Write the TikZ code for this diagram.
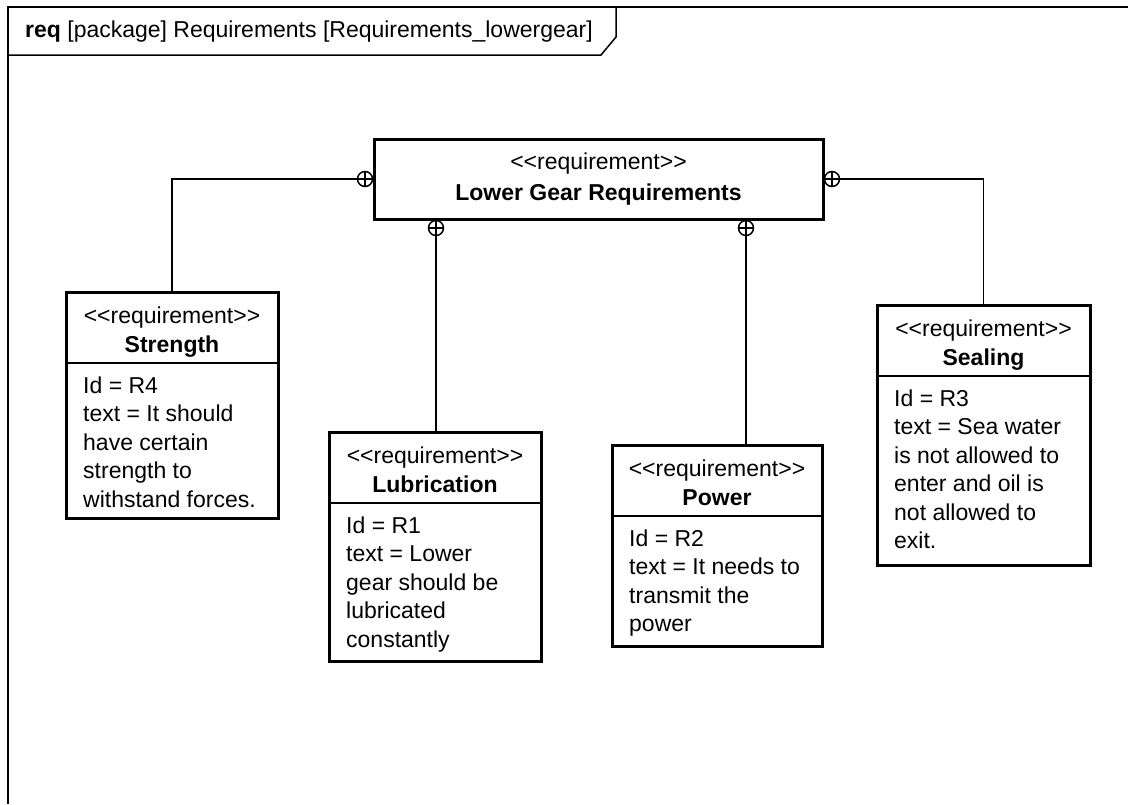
\documentclass[tikz,border=0pt]{standalone}
\usepackage{fontspec}
\setmainfont{Liberation Sans}
% keep the double angle brackets from turning into guillemets
\newcommand\stereo{<\kern0pt<requirement>\kern0pt>}
% one requirement block: name, x, y, width, height, title, body lines
\newcommand\reqblock[7]{%
  \node[reqbox, minimum width=#4, minimum height=#5] (#1) at (#2,#3) {};
  \node[txt, anchor=base] (#1-st) at ([yshift=-31pt]#1.north) {\stereo};
  \node[txt, anchor=base] (#1-nm) at ([yshift=-60pt]#1.north) {\textbf{#6}};
  \draw[sepline] ([yshift=-71pt]#1.north west) -- ([yshift=-71pt]#1.north east);
  \foreach [count=\i] \ln in {#7}
    \node[txt, anchor=base west] (#1-b\i) at ([xshift=17pt, yshift={-(101+28.5*(\i-1))}]#1.north west) {\ln};
}
\begin{document}
\begin{tikzpicture}[x=1pt,y=-1pt,
  txt/.style={inner sep=0pt, font=\fontsize{23}{28.5}\selectfont},
  reqbox/.style={draw, line width=3pt, inner sep=0pt, outer sep=0pt, anchor=north west, fill=white},
  sepline/.style={line width=1.4pt},
  conn/.style={line width=1.2pt},
  marker/.style={circle, draw, line width=1.5pt, minimum size=15pt, inner sep=0pt, outer sep=0pt, fill=white,
    path picture={\draw[line width=1.3pt] (path picture bounding box.north) -- (path picture bounding box.south)
      (path picture bounding box.west) -- (path picture bounding box.east);}},
  frameline/.style={line width=2pt},
  tabline/.style={line width=1.5pt}]

\useasboundingbox (0,0) rectangle (1128,804);

% diagram frame and its name tab
\draw[frameline] (8,804) -- (8,7) -- (1128,7);
\draw[tabline] (8,55) -- (601,55) -- (616,37) -- (616,7);
\node[txt, anchor=base west] (title) at (25,37) {\textbf{req} [package] Requirements [Requirements\_lowergear]};

% parent requirement
\node[reqbox, minimum width=449, minimum height=80] (main) at (374,139) {};
\node[txt, anchor=base] (main-st) at ([yshift=-30pt]main.north) {\stereo};
\node[txt, anchor=base] (main-nm) at ([yshift=-61pt]main.north) {\textbf{Lower Gear Requirements}};

% child requirements
\reqblock{str}{66}{292}{212}{226}{Strength}{Id = R4, text = It should, have certain, strength to, withstand forces.}
\reqblock{lub}{329}{432}{212}{229}{Lubrication}{Id = R1, text = Lower, gear should be, lubricated, constantly}
\reqblock{pow}{612}{445}{210}{201}{Power}{Id = R2, text = It needs to, transmit the, power}
\reqblock{seal}{877}{305}{213}{260}{Sealing}{Id = R3, text = Sea water, is not allowed to, enter and oil is, not allowed to, exit.}

% containment markers on the parent
\coordinate (mLc) at (365,179);
\coordinate (mRc) at (832,179);
\coordinate (mB1c) at (436,228);
\coordinate (mB2c) at (746,228);

% containment connectors
\draw[conn] (mLc) -| (str.north);
\draw[conn] (mRc) -| (seal.north);
\draw[conn] (mB1c) -- (mB1c |- lub.north);
\draw[conn] (mB2c) -- (mB2c |- pow.north);

\node[marker] (mL) at (mLc) {};
\node[marker] (mR) at (mRc) {};
\node[marker] (mB1) at (mB1c) {};
\node[marker] (mB2) at (mB2c) {};
\end{tikzpicture}
\end{document}
